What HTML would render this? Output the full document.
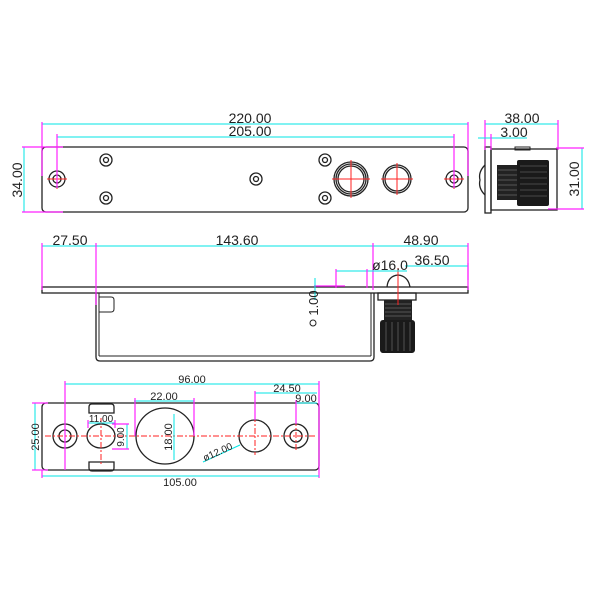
<!DOCTYPE html>
<html><head><meta charset="utf-8"><style>
html,body{margin:0;padding:0;background:#fff;}
svg{display:block;}
text{font-family:"Liberation Sans",sans-serif;fill:#222;}
.o{fill:none;stroke:#222;stroke-width:1.3;}
.t{fill:none;stroke:#222;stroke-width:1;}
.c{stroke:#00e5e5;stroke-width:1;fill:none;}
.m{stroke:#ff22ff;stroke-width:1.2;fill:none;}
.r{stroke:#ff2222;stroke-width:1;fill:none;stroke-dasharray:6,2,2,2;}
</style></head><body>
<svg width="600" height="600" viewBox="0 0 600 600" xmlns="http://www.w3.org/2000/svg">
<!-- TOP VIEW -->
<rect x="42" y="147" width="426" height="65" rx="4" class="o"/>
<g class="o">
<circle cx="57" cy="179" r="8"/><circle cx="57" cy="179" r="4"/>
<circle cx="454" cy="179" r="8"/><circle cx="454" cy="179" r="4"/>
<circle cx="106" cy="160" r="6"/><circle cx="106" cy="160" r="2.5"/>
<circle cx="106" cy="198" r="6"/><circle cx="106" cy="198" r="2.5"/>
<circle cx="256" cy="179" r="6"/><circle cx="256" cy="179" r="2.5"/>
<circle cx="325" cy="160" r="6"/><circle cx="325" cy="160" r="2.5"/>
<circle cx="325" cy="198" r="6"/><circle cx="325" cy="198" r="2.5"/>
<circle cx="351" cy="179" r="17"/><circle cx="351" cy="179" r="15"/><circle cx="351" cy="179" r="13"/>
<circle cx="397" cy="179" r="14"/><circle cx="397" cy="179" r="12"/>
</g>
<g stroke="#f22" stroke-width="1">
<line x1="47" y1="179" x2="67" y2="179"/><line x1="57" y1="169" x2="57" y2="189"/>
<line x1="444" y1="179" x2="464" y2="179"/><line x1="454" y1="169" x2="454" y2="189"/>
<line x1="332" y1="179" x2="370" y2="179"/><line x1="351" y1="160" x2="351" y2="198"/>
<line x1="381" y1="179" x2="413" y2="179"/><line x1="397" y1="163" x2="397" y2="195"/>
</g>
<!-- top dims -->
<line class="c" x1="42" y1="124" x2="468" y2="124"/>
<line class="c" x1="57" y1="137" x2="454" y2="137"/>
<line class="m" x1="42" y1="122" x2="42" y2="176"/>
<line class="m" x1="468" y1="122" x2="468" y2="176"/>
<line class="m" x1="57" y1="134" x2="57" y2="188"/>
<line class="m" x1="454" y1="134" x2="454" y2="188"/>
<text x="250" y="123" font-size="14" text-anchor="middle">220.00</text>
<text x="250" y="136" font-size="14" text-anchor="middle">205.00</text>
<line class="c" x1="24" y1="147" x2="24" y2="212"/>
<line class="m" x1="22" y1="147" x2="63" y2="147"/>
<line class="m" x1="22" y1="212" x2="63" y2="212"/>
<text transform="translate(22,180) rotate(-90)" font-size="14" text-anchor="middle">34.00</text>

<!-- SIDE VIEW -->
<path class="o" d="M485 165 Q478 172 480 180 Q478 188 485 195"/>
<rect x="485" y="147" width="6" height="66" class="o"/>
<rect x="491" y="149" width="66" height="61" class="o"/>
<rect x="515" y="147" width="15" height="3" class="t"/>
<rect x="497" y="165" width="21" height="35" fill="#222"/>
<g stroke="#888" stroke-width="0.6">
<line x1="498" y1="170" x2="517" y2="170"/><line x1="498" y1="175" x2="517" y2="175"/><line x1="498" y1="180" x2="517" y2="180"/><line x1="498" y1="185" x2="517" y2="185"/><line x1="498" y1="190" x2="517" y2="190"/><line x1="498" y1="195" x2="517" y2="195"/>
</g>
<rect x="517" y="160" width="32" height="46" rx="2" fill="#1a1a1a"/>
<g stroke="#777" stroke-width="0.6">
<line x1="520" y1="166" x2="547" y2="166"/><line x1="520" y1="172" x2="547" y2="172"/><line x1="520" y1="178" x2="547" y2="178"/><line x1="520" y1="184" x2="547" y2="184"/><line x1="520" y1="190" x2="547" y2="190"/><line x1="520" y1="196" x2="547" y2="196"/>
</g>
<line class="c" x1="485" y1="124" x2="558" y2="124"/>
<line class="m" x1="485" y1="120" x2="485" y2="150"/>
<line class="m" x1="558" y1="120" x2="558" y2="150"/>
<line class="c" x1="478" y1="138" x2="527" y2="138"/>
<line class="m" x1="491" y1="134" x2="491" y2="150"/>
<text x="522" y="123" font-size="14" text-anchor="middle">38.00</text>
<text x="514" y="137" font-size="14" text-anchor="middle">3.00</text>
<line class="c" x1="582" y1="148" x2="582" y2="209"/>
<line class="m" x1="556" y1="148" x2="584" y2="148"/>
<line class="m" x1="548" y1="209" x2="584" y2="209"/>
<text transform="translate(579,179) rotate(-90)" font-size="14" text-anchor="middle">31.00</text>

<!-- MIDDLE VIEW -->
<rect x="42" y="287" width="426" height="6" class="o"/>
<path class="o" d="M96 293 V357 Q96 361 100 361 H370 Q374 361 374 357 V293"/>
<line class="t" x1="99" y1="293" x2="99" y2="356"/>
<line class="t" x1="371" y1="293" x2="371" y2="356"/>
<line class="t" x1="99" y1="356" x2="371" y2="356"/>
<path class="t" d="M99 297 H111 Q114 297 114 300 V309 Q114 312 111 312 H99"/>
<rect x="378" y="293" width="38" height="7" class="o"/>
<path class="o" d="M387 287 Q388 276 398 275 Q408 276 410 287"/>
<rect x="384" y="300" width="28" height="22" fill="#222"/>
<g stroke="#888" stroke-width="0.5"><line x1="385" y1="304" x2="411" y2="304"/><line x1="385" y1="308" x2="411" y2="308"/><line x1="385" y1="312" x2="411" y2="312"/><line x1="385" y1="316" x2="411" y2="316"/></g>
<rect x="380" y="320" width="35" height="33" rx="3" fill="#1a1a1a"/>
<g stroke="#777" stroke-width="0.6"><line x1="386" y1="322" x2="386" y2="351"/><line x1="392" y1="322" x2="392" y2="351"/><line x1="398" y1="322" x2="398" y2="351"/><line x1="404" y1="322" x2="404" y2="351"/><line x1="410" y1="322" x2="410" y2="351"/></g>
<line stroke="#f22" x1="398" y1="268" x2="398" y2="305"/>
<line class="c" x1="42" y1="246" x2="468" y2="246"/>
<line class="m" x1="42" y1="243" x2="42" y2="290"/>
<line class="m" x1="96" y1="243" x2="96" y2="305"/>
<line class="m" x1="373" y1="243" x2="373" y2="290"/>
<line class="m" x1="468" y1="243" x2="468" y2="290"/>
<text x="70" y="245" font-size="14" text-anchor="middle">27.50</text>
<text x="237" y="245" font-size="14" text-anchor="middle">143.60</text>
<text x="421" y="245" font-size="14" text-anchor="middle">48.90</text>
<line class="c" x1="405" y1="266" x2="468" y2="266"/>
<line class="m" x1="468" y1="263" x2="468" y2="280"/>
<text x="432" y="265" font-size="14" text-anchor="middle">36.50</text>
<line class="c" x1="336" y1="271" x2="407" y2="271"/>
<line class="m" x1="336" y1="269" x2="336" y2="288"/>
<line class="m" x1="367" y1="269" x2="367" y2="288"/>
<line class="m" x1="314" y1="286" x2="345" y2="286"/>
<text x="390" y="270" font-size="14" text-anchor="middle">ø16.0</text>
<line class="c" x1="315" y1="278" x2="315" y2="300"/>
<text transform="translate(318,303) rotate(-90)" font-size="13" text-anchor="middle">1.00</text>
<circle cx="313" cy="323" r="3" class="t"/>

<!-- BOTTOM VIEW -->
<rect x="42" y="403" width="277" height="67" rx="4" class="o"/>
<path class="o" d="M89 413 V407 Q89 404 92 404 H111 Q114 404 114 407 V413 Z"/>
<path class="o" d="M89 462 V468 Q89 471 92 471 H111 Q114 471 114 468 V462 Z"/>
<g class="o">
<circle cx="65" cy="436" r="12"/><circle cx="65" cy="436" r="6"/>
<circle cx="296" cy="436" r="12"/><circle cx="296" cy="436" r="6"/>
<ellipse cx="101" cy="436" rx="14" ry="12"/>
<ellipse cx="165" cy="436" rx="29" ry="28"/>
<circle cx="255" cy="436" r="16"/>
</g>
<line class="r" x1="45" y1="436" x2="316" y2="436"/>
<line class="r" x1="101" y1="418" x2="101" y2="466"/>
<line class="r" x1="255" y1="416" x2="255" y2="455"/>
<line class="r" x1="296" y1="420" x2="296" y2="452"/>
<line class="c" x1="65" y1="384" x2="319" y2="384"/>
<line class="m" x1="65" y1="381" x2="65" y2="470"/>
<line class="m" x1="319" y1="381" x2="319" y2="478"/>
<text x="192" y="383" font-size="11" text-anchor="middle">96.00</text>
<line class="c" x1="255" y1="393" x2="317" y2="393"/>
<line class="m" x1="255" y1="391" x2="255" y2="420"/>
<text x="287" y="392" font-size="11" text-anchor="middle">24.50</text>
<line class="c" x1="296" y1="403" x2="317" y2="403"/>
<line class="m" x1="296" y1="400" x2="296" y2="424"/>
<text x="306" y="402" font-size="11" text-anchor="middle">9.00</text>
<line class="c" x1="134" y1="401" x2="194" y2="401"/>
<line class="m" x1="135" y1="398" x2="135" y2="436"/>
<line class="m" x1="194" y1="398" x2="194" y2="436"/>
<text x="164" y="400" font-size="11" text-anchor="middle">22.00</text>
<line class="c" x1="88" y1="423" x2="115" y2="423"/>
<line class="m" x1="88" y1="420" x2="88" y2="428"/>
<line class="m" x1="115" y1="420" x2="115" y2="428"/>
<text x="101" y="422" font-size="10" text-anchor="middle">11.00</text>
<line class="c" x1="127" y1="424" x2="127" y2="449"/>
<line class="m" x1="112" y1="424" x2="129" y2="424"/>
<line class="m" x1="112" y1="449" x2="129" y2="449"/>
<text transform="translate(124,437) rotate(-90)" font-size="10" text-anchor="middle">9.00</text>
<line class="c" x1="174" y1="414" x2="174" y2="460"/>
<text transform="translate(172,437) rotate(-90)" font-size="11" text-anchor="middle">18.00</text>
<line class="c" x1="203" y1="462" x2="240" y2="445"/>
<text transform="translate(219,455) rotate(-24)" font-size="10" text-anchor="middle">ø12.00</text>
<line class="c" x1="42" y1="476" x2="319" y2="476"/>
<line class="m" x1="42" y1="470" x2="42" y2="478"/>
<text x="180" y="486" font-size="11" text-anchor="middle">105.00</text>
<line class="c" x1="35" y1="403" x2="35" y2="470"/>
<line class="m" x1="32" y1="403" x2="48" y2="403"/>
<line class="m" x1="32" y1="470" x2="48" y2="470"/>
<text transform="translate(39,437) rotate(-90)" font-size="11" text-anchor="middle">25.00</text>
</svg>
</body></html>
